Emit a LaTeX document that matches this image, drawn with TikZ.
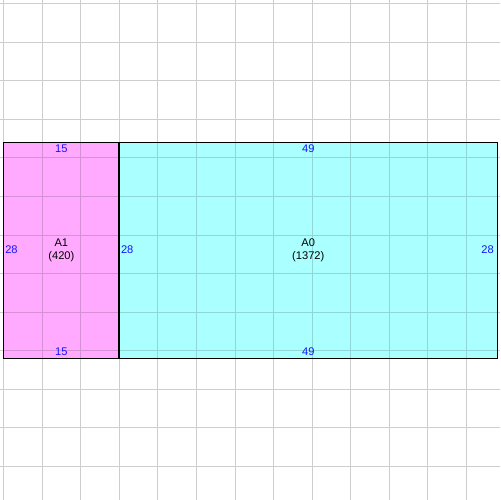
\documentclass[tikz,border=0pt]{standalone}
\usepackage{fontspec}
\setmainfont{Liberation Sans}
\definecolor{roompink}{RGB}{255,170,255}
\definecolor{roomcyan}{RGB}{170,255,255}
\definecolor{gridgray}{RGB}{206,206,206}
\definecolor{gridpink}{RGB}{214,145,214}
\definecolor{gridcyan}{RGB}{145,214,214}
\definecolor{dimblue}{RGB}{20,20,255}
\begin{document}
\begin{tikzpicture}[x=0.2cm,y=0.2cm,
  gridline/.style={line width=0.7bp},
  wall/.style={draw=black,line width=1.2bp},
  dimlabel/.style={text=dimblue,inner sep=0pt,font=\fontsize{8.2}{9.6}\selectfont},
  namelabel/.style={text=black,inner sep=0pt,align=center,font=\fontsize{8.2}{9.6}\selectfont}]
\useasboundingbox[fill=white] (-0.4536,0.4536) rectangle (64.346,-64.346);
% room fills
\fill[roompink] (0,-18) rectangle (15,-46);
\fill[roomcyan] (15,-18) rectangle (64,-46);
% grid
\foreach \k in {0,5,...,60}{
  \draw[gridline,gridgray] (\k,0.4536) -- (\k,-64.346);
  \draw[gridline,gridgray] (-0.4536,-\k) -- (64.346,-\k);
}
\begin{scope}
  \clip (0,-18) rectangle (15,-46);
  \fill[roompink] (0,-18) rectangle (15,-46);
  \foreach \k in {0,5,...,60}{
    \draw[gridline,gridpink] (\k,0.4536) -- (\k,-64.346);
    \draw[gridline,gridpink] (-0.4536,-\k) -- (64.346,-\k);
  }
\end{scope}
\begin{scope}
  \clip (15,-18) rectangle (64,-46);
  \fill[roomcyan] (15,-18) rectangle (64,-46);
  \foreach \k in {0,5,...,60}{
    \draw[gridline,gridcyan] (\k,0.4536) -- (\k,-64.346);
    \draw[gridline,gridcyan] (-0.4536,-\k) -- (64.346,-\k);
  }
\end{scope}
% walls
\draw[wall] (0,-18) rectangle (64,-46);
\draw[wall] (15,-18) -- (15,-46);
% labels
\node[namelabel] (nA1) at (7.5,-32) {A1\\(420)};
\node[namelabel] (nA0) at (39.5,-32) {A0\\(1372)};
\node[dimlabel] (t1) at (7.5,-18.86) {15};
\node[dimlabel] (b1) at (7.5,-45.17) {15};
\node[dimlabel] (t0) at (39.5,-18.86) {49};
\node[dimlabel] (b0) at (39.5,-45.17) {49};
\node[dimlabel,anchor=west] (l1) at (0.2,-31.95) {28};
\node[dimlabel,anchor=west] (l0) at (15.2,-31.95) {28};
\node[dimlabel,anchor=east] (r0) at (63.57,-31.95) {28};
\end{tikzpicture}
\end{document}
